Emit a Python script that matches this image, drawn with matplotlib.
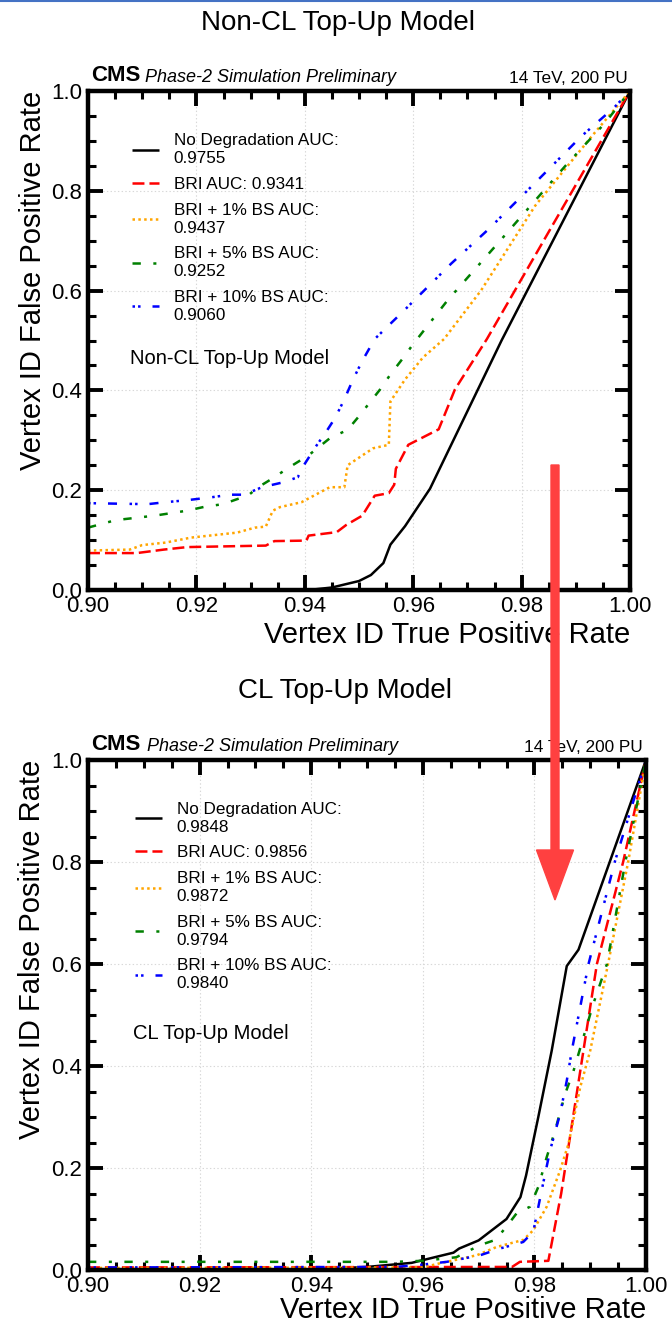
import matplotlib
matplotlib.use("Agg")
import matplotlib.pyplot as plt
from matplotlib.patches import FancyArrow
from matplotlib.lines import Line2D
from matplotlib.ticker import MultipleLocator, FormatStrFormatter

plt.rcParams['font.family'] = ['Liberation Sans', 'DejaVu Sans']
plt.rcParams['lines.scale_dashes'] = False

# ---------------- data ----------------
titles = ["Non-CL Top-Up Model", "CL Top-Up Model"]
series_names = ["No Degradation", "BRI", "BRI + 1% BS", "BRI + 5% BS", "BRI + 10% BS"]
auc_top = ["0.9755", "0.9341", "0.9437", "0.9252", "0.9060"]
auc_bot = ["0.9848", "0.9856", "0.9872", "0.9794", "0.9840"]

# Non-CL Top-Up Model
nd_top_x = [0.935, 0.9407, 0.945, 0.950, 0.9522, 0.9545, 0.9558, 0.9585, 0.9631, 0.9763, 1.0]
nd_top_y = [0.0, 0.0, 0.005, 0.018, 0.030, 0.054, 0.091, 0.128, 0.203, 0.50, 1.0]
bri_top_x = [0.90, 0.909, 0.914, 0.9183, 0.9328, 0.9344, 0.9403, 0.9407, 0.9459, 0.9476, 0.9506,
             0.9529, 0.9555, 0.9565, 0.9568, 0.9591, 0.9647, 0.9677, 0.9736, 1.0]
bri_top_y = [0.074, 0.074, 0.081, 0.086, 0.089, 0.098, 0.099, 0.109, 0.116, 0.130, 0.149,
             0.189, 0.194, 0.211, 0.243, 0.291, 0.322, 0.402, 0.503, 1.0]
bs1_top_x = [0.90, 0.9077, 0.910, 0.9143, 0.919, 0.9275, 0.9308, 0.9328, 0.9341, 0.9354, 0.9394,
             0.9446, 0.9473, 0.9479, 0.9526, 0.9555, 0.9558, 0.9585, 0.9618, 0.9657, 0.9725,
             0.9825, 0.993, 1.0]
bs1_top_y = [0.079, 0.081, 0.090, 0.095, 0.105, 0.115, 0.125, 0.127, 0.159, 0.166, 0.176,
             0.206, 0.206, 0.250, 0.284, 0.291, 0.378, 0.422, 0.466, 0.503, 0.60,
             0.77, 0.91, 1.0]
bs5_top_x = [0.90, 0.9051, 0.9123, 0.9183, 0.9216, 0.9249, 0.9275, 0.9295, 0.9314, 0.9344, 0.9367,
             0.9407, 0.9446, 0.9479, 0.9499, 0.9539, 0.9558, 0.9585, 0.9598, 0.9663, 0.9762,
             0.988, 0.9954, 1.0]
bs5_top_y = [0.125, 0.140, 0.149, 0.159, 0.167, 0.172, 0.182, 0.189, 0.206, 0.226, 0.243,
             0.270, 0.304, 0.321, 0.347, 0.402, 0.432, 0.470, 0.490, 0.580, 0.702,
             0.849, 0.936, 1.0]
bs10_top_x = [0.90, 0.911, 0.9143, 0.9183, 0.9229, 0.9262, 0.9288, 0.9321, 0.9361, 0.9387, 0.940,
              0.942, 0.944, 0.9456, 0.9473, 0.9489, 0.9506, 0.9529, 0.9583, 0.967, 0.9738,
              0.9825, 0.9911, 0.997, 1.0]
bs10_top_y = [0.174, 0.172, 0.176, 0.180, 0.186, 0.191, 0.191, 0.206, 0.216, 0.226, 0.253,
              0.287, 0.318, 0.345, 0.382, 0.422, 0.459, 0.503, 0.56, 0.654, 0.722,
              0.816, 0.91, 0.966, 1.0]

# CL Top-Up Model
nd_bot_x = [0.90, 0.94, 0.95, 0.958, 0.9655, 0.9665, 0.970, 0.975, 0.9775, 0.9785, 0.9807,
            0.9831, 0.9858, 0.9879, 1.0]
nd_bot_y = [0.0, 0.001, 0.006, 0.014, 0.034, 0.042, 0.058, 0.100, 0.143, 0.185, 0.300,
            0.430, 0.596, 0.628, 1.0]
bri_bot_x = [0.90, 0.976, 0.9774, 0.9825, 0.9848, 0.9885, 0.9912, 0.9959, 1.0]
bri_bot_y = [0.005, 0.006, 0.016, 0.018, 0.15, 0.41, 0.60, 0.80, 1.0]
bs1_bot_x = [0.90, 0.96, 0.963, 0.9697, 0.9732, 0.978, 0.9798, 0.9822, 0.9846, 0.9861, 0.9882,
             0.990, 0.9932, 0.9968, 1.0]
bs1_bot_y = [0.004, 0.005, 0.013, 0.029, 0.045, 0.059, 0.078, 0.124, 0.195, 0.247, 0.358,
             0.43, 0.60, 0.80, 1.0]
bs5_bot_x = [0.90, 0.955, 0.960, 0.966, 0.9703, 0.973, 0.975, 0.9768, 0.9792, 0.9807, 0.9822,
             0.9837, 0.9855, 0.987, 0.9905, 0.993, 0.9963, 1.0]
bs5_bot_y = [0.016, 0.016, 0.018, 0.025, 0.049, 0.059, 0.085, 0.111, 0.124, 0.163, 0.221,
             0.273, 0.345, 0.39, 0.52, 0.60, 0.80, 1.0]
bs10_bot_x = [0.90, 0.955, 0.9595, 0.9643, 0.9703, 0.9738, 0.9774, 0.978, 0.9798, 0.9813, 0.9828,
              0.9846, 0.9858, 0.9867, 0.9897, 0.9944, 1.0]
bs10_bot_y = [0.005, 0.006, 0.010, 0.016, 0.029, 0.042, 0.053, 0.055, 0.075, 0.156, 0.234,
              0.306, 0.371, 0.43, 0.60, 0.80, 1.0]

top_curves = [(nd_top_x, nd_top_y), (bri_top_x, bri_top_y), (bs1_top_x, bs1_top_y),
              (bs5_top_x, bs5_top_y), (bs10_top_x, bs10_top_y)]
bot_curves = [(nd_bot_x, nd_bot_y), (bri_bot_x, bri_bot_y), (bs1_bot_x, bs1_bot_y),
              (bs5_bot_x, bs5_bot_y), (bs10_bot_x, bs10_bot_y)]

# ---------------- styles ----------------
colors = ['black', '#ff0000', '#ffa500', '#008000', '#0000ff']
styles = ['-', (0, (8.6, 3.6)), (0, (1.8, 2.4)), (0, (6.0, 9.0, 2.2, 9.0)),
          (0, (1.8, 2.2, 1.8, 8.6, 6.5, 9.0))]
LW = 1.8

W, H = 672, 1327
fig = plt.figure(figsize=(W / 100, H / 100), dpi=100)


def axes_px(left, top, right, bottom):
    return fig.add_axes([left / W, (H - bottom) / H, (right - left) / W, (bottom - top) / H])


def make_panel(ax, curves, aucs, inner_text, top_px, left_px, right_px, leg_x, leg_y, title,
               xlab_y):
    for (x, y), c, ls, name, auc in zip(curves, colors, styles, series_names, aucs):
        if name == "BRI":
            lab = f"{name} AUC: {auc}"
        else:
            lab = f"{name} AUC:\n{auc}"
        ax.plot(x, y, color=c, linestyle=ls, lw=LW, label=lab, solid_capstyle='butt',
                dash_capstyle='butt')
    ax.set_xlim(0.90, 1.00)
    ax.set_ylim(0.0, 1.0)
    ax.xaxis.set_major_locator(MultipleLocator(0.02))
    ax.xaxis.set_minor_locator(MultipleLocator(0.005))
    ax.yaxis.set_major_locator(MultipleLocator(0.2))
    ax.yaxis.set_minor_locator(MultipleLocator(0.05))
    ax.xaxis.set_major_formatter(FormatStrFormatter('%.2f'))
    ax.yaxis.set_major_formatter(FormatStrFormatter('%.1f'))
    ax.tick_params(which='both', direction='in', top=True, right=True)
    ax.tick_params(which='major', length=11, width=2.8, labelsize=16, pad=4)
    ax.tick_params(which='minor', length=6, width=2.2)
    for s in ax.spines.values():
        s.set_linewidth(3.2)
    ax.grid(True, which='major', color='#d8d8d8', linestyle=':', lw=0.8)
    ax.set_axisbelow(True)
    ax.set_xlabel("Vertex ID True Positive Rate", fontsize=21, loc='right')
    ax.set_ylabel("Vertex ID False Positive Rate", fontsize=21, loc='top')
    ax.xaxis.set_label_coords(1.0, xlab_y)
    ax.yaxis.set_label_coords(-0.075, 1.0)
    leg = ax.legend(loc='upper left', bbox_to_anchor=(leg_x, leg_y), frameon=False,
                    fontsize=12.3, handlelength=1.6, handletextpad=0.85, labelspacing=0.62,
                    borderpad=0.0, borderaxespad=0.0)
    for t in leg.get_texts():
        t.set_linespacing(1.25)
    ax.text(leg_x - 0.004, 0.464, inner_text, transform=ax.transAxes, fontsize=14.5,
            ha='left', va='center')
    ax.text(0.005, 1.01, "CMS", transform=ax.transAxes, fontsize=16, fontweight='bold',
            ha='left', va='bottom')
    ax.text(0.105, 1.01, "Phase-2 Simulation Preliminary", transform=ax.transAxes,
            fontsize=13, style='italic', ha='left', va='bottom')
    ax.text(0.995, 1.01, "14 TeV, 200 PU", transform=ax.transAxes, fontsize=12.4,
            ha='right', va='bottom')
    cx = (left_px + right_px) / 2
    fig.text(cx / W, 1 - (top_px - 70) / H, title, fontsize=20, ha='center', va='center')


ax1 = axes_px(88, 91, 630, 590)
ax2 = axes_px(88, 760, 646, 1270)

make_panel(ax1, top_curves, auc_top, titles[0], 93, 0, 676, 0.081, 0.915, titles[0], -0.063)
make_panel(ax2, bot_curves, auc_bot, titles[1], 761, 0, 690, 0.084, 0.918, titles[1], -0.051)

# red arrow between panels
fig.add_artist(FancyArrow(5.55, (H - 465) / 100, 0, -(900 - 465) / 100, width=0.08,
                          head_width=0.37, head_length=0.5, length_includes_head=True,
                          color='#ff4040', transform=fig.dpi_scale_trans, zorder=20))
# thin blue border line at top
fig.add_artist(Line2D([0, 1], [1 - 0.6 / H, 1 - 0.6 / H], transform=fig.transFigure,
                      color='#4472c4', lw=1.5))

fig.savefig("out.png", dpi=100, facecolor='white')
